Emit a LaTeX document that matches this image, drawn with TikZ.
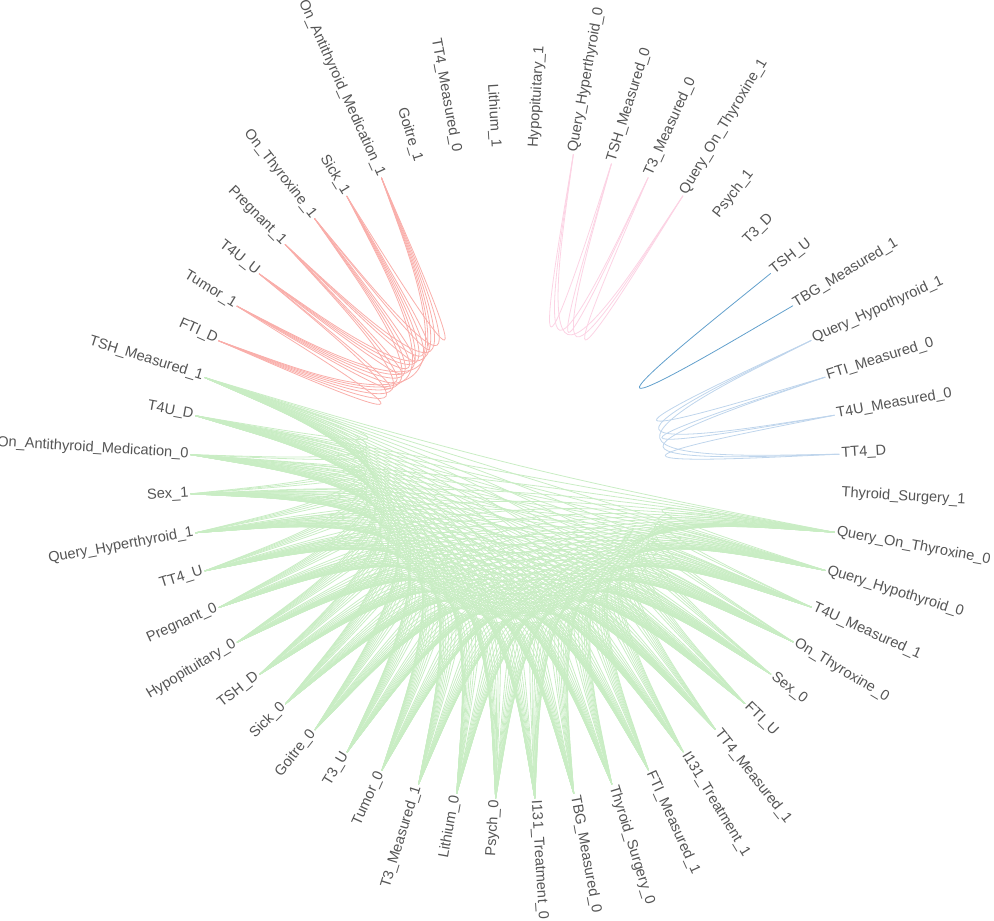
\documentclass[tikz,border=0pt]{standalone}
\usepackage{fontspec}
\setmainfont{Liberation Sans}
\usetikzlibrary{calc}

\definecolor{labelgray}{HTML}{555555}
\definecolor{grnlink}{HTML}{C9EDC4}
\definecolor{redlink}{HTML}{F9AEAA}
\definecolor{pnklink}{HTML}{FCD3E4}
\definecolor{ltblink}{HTML}{BFD5EC}
\definecolor{dkblink}{HTML}{62A0CC}

% bundled link through the centre (O), beta = 0.8
\newcommand\bundle[3]{%
  \coordinate (bm) at ($(#1)!.5!(#2)$);
  \coordinate (bc) at ($(bm)!.8!(O)$);
  \draw[#3] (#1) -- ($(#1)!1/6!(bc)$)
    .. controls ($(#1)!1/3!(bc)$) and ($(#1)!2/3!(bc)$) .. ($(bm)!2/3!(bc)$)
    .. controls ($(#2)!2/3!(bc)$) and ($(#2)!1/3!(bc)$) .. ($(#2)!1/6!(bc)$)
    -- (#2);}
% every pair of leaves #1..#2
\newcommand\clique[3]{%
  \pgfmathtruncatemacro\cqlast{#2-1}
  \foreach \i in {#1,...,\cqlast}{
    \pgfmathtruncatemacro\nx{\i+1}
    \foreach \j in {\nx,...,#2}{\bundle{v\i}{v\j}{#3}}}}

\begin{document}
\begin{tikzpicture}[x=1pt,y=1pt,
    leaf/.style={text=labelgray, font=\fontsize{14.6}{17}\selectfont,
      inner xsep=2pt, inner ysep=0pt, text height=.87em, text depth=.25em},
    link/.style={line width=.8pt}]
  \useasboundingbox (-515,-447) rectangle (479,474);
  \coordinate (O) at (0,0);

  % leaves round the circle, clockwise from the top
  \foreach \lbl [count=\k] in {Lithium\_1, Hypopituitary\_1, Query\_Hyperthyroid\_0,
      TSH\_Measured\_0, T3\_Measured\_0, Query\_On\_Thyroxine\_1, Psych\_1, T3\_D,
      TSH\_U, TBG\_Measured\_1, Query\_Hypothyroid\_1, FTI\_Measured\_0,
      T4U\_Measured\_0, TT4\_D, Thyroid\_Surgery\_1, Query\_On\_Thyroxine\_0,
      Query\_Hypothyroid\_0, T4U\_Measured\_1, On\_Thyroxine\_0, Sex\_0, FTI\_U,
      TT4\_Measured\_1, I131\_Treatment\_1, FTI\_Measured\_1, Thyroid\_Surgery\_0,
      TBG\_Measured\_0, I131\_Treatment\_0, Psych\_0, Lithium\_0, T3\_Measured\_1,
      Tumor\_0, T3\_U, Goitre\_0, Sick\_0, TSH\_D, Hypopituitary\_0, Pregnant\_0,
      TT4\_U, Query\_Hyperthyroid\_1, Sex\_1, On\_Antithyroid\_Medication\_0,
      T4U\_D, TSH\_Measured\_1, FTI\_D, Tumor\_1, T4U\_U, Pregnant\_1,
      On\_Thyroxine\_1, Sick\_1, On\_Antithyroid\_Medication\_1, Goitre\_1,
      TT4\_Measured\_0}{
    \pgfmathsetmacro\ang{93.5-6.923077*(\k-1)}
    \coordinate (v\k) at (\ang:325);
    \pgfmathtruncatemacro\rside{cos(\ang)>0}
    \ifnum\rside=1
      \node[leaf, rotate=\ang, anchor=west] (n\k) at (v\k) {\lbl};
    \else
      \node[leaf, rotate=\ang+180, anchor=east] (n\k) at (v\k) {\lbl};
    \fi
  }

  % links
  \clique{16}{43}{link, grnlink}
  \clique{44}{50}{link, redlink}
  \clique{3}{6}{link, pnklink}
  \clique{11}{14}{link, ltblink}
  \bundle{v9}{v10}{link, dkblink}
\end{tikzpicture}
\end{document}
